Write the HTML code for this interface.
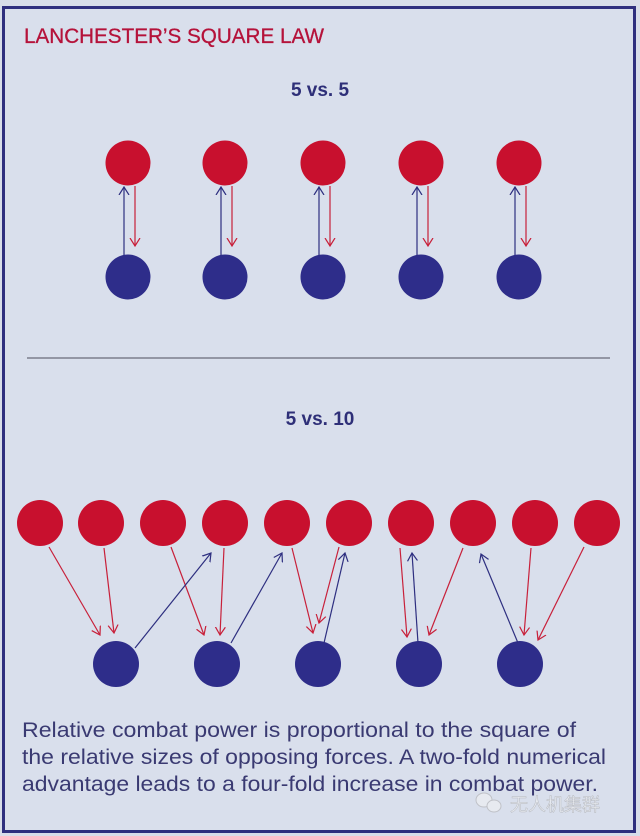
<!DOCTYPE html>
<html><head><meta charset="utf-8"><style>
html,body{margin:0;padding:0;background:#d8dde9;}
svg{display:block}
</style></head><body>
<svg width="640" height="836" viewBox="0 0 640 836" xmlns="http://www.w3.org/2000/svg">
<defs>
<marker id="r" markerWidth="10" markerHeight="12" refX="8" refY="6" orient="auto" markerUnits="userSpaceOnUse"><path d="M0,1 L8,6 L0,11" fill="none" stroke="#c8203a" stroke-width="1.2"/></marker>
<marker id="b" markerWidth="10" markerHeight="12" refX="8" refY="6" orient="auto" markerUnits="userSpaceOnUse"><path d="M0,1 L8,6 L0,11" fill="none" stroke="#2e2f80" stroke-width="1.2"/></marker>
</defs>
<rect x="0" y="0" width="640" height="836" fill="#d8dde9"/>
<rect x="3.5" y="7.5" width="631" height="824" fill="#d9dfec" stroke="#2f2f7e" stroke-width="3"/>
<text x="24" y="43" font-family="Liberation Sans, sans-serif" font-size="21" fill="#b5123a" stroke="#b5123a" stroke-width="0.3" textLength="300" lengthAdjust="spacingAndGlyphs">LANCHESTER’S SQUARE LAW</text>
<text x="320" y="96" text-anchor="middle" font-family="Liberation Sans, sans-serif" font-weight="bold" font-size="19" fill="#2e2f78">5 vs. 5</text>
<text x="320" y="425" text-anchor="middle" font-family="Liberation Sans, sans-serif" font-weight="bold" font-size="19" fill="#2e2f78">5 vs. 10</text>
<line x1="27" y1="358" x2="610" y2="358" stroke="#6a6a78" stroke-width="1.2"/>
<g fill="#c8102e">
<circle cx="128" cy="163" r="22.5"/><circle cx="225" cy="163" r="22.5"/><circle cx="323" cy="163" r="22.5"/><circle cx="421" cy="163" r="22.5"/><circle cx="519" cy="163" r="22.5"/>
</g>
<g fill="#2e2d8a">
<circle cx="128" cy="277" r="22.5"/><circle cx="225" cy="277" r="22.5"/><circle cx="323" cy="277" r="22.5"/><circle cx="421" cy="277" r="22.5"/><circle cx="519" cy="277" r="22.5"/>
</g>
<g stroke-width="1.2" fill="none">
<g stroke="#2e2f80" marker-end="url(#b)">
<line x1="124" y1="255" x2="124" y2="187"/><line x1="221" y1="255" x2="221" y2="187"/><line x1="319" y1="255" x2="319" y2="187"/><line x1="417" y1="255" x2="417" y2="187"/><line x1="515" y1="255" x2="515" y2="187"/>
</g>
<g stroke="#c8203a" marker-end="url(#r)">
<line x1="135" y1="186" x2="135" y2="246"/><line x1="232" y1="186" x2="232" y2="246"/><line x1="330" y1="186" x2="330" y2="246"/><line x1="428" y1="186" x2="428" y2="246"/><line x1="526" y1="186" x2="526" y2="246"/>
</g>
</g>
<g fill="#c8102e">
<circle cx="40" cy="523" r="23"/><circle cx="101" cy="523" r="23"/><circle cx="163" cy="523" r="23"/><circle cx="225" cy="523" r="23"/><circle cx="287" cy="523" r="23"/><circle cx="349" cy="523" r="23"/><circle cx="411" cy="523" r="23"/><circle cx="473" cy="523" r="23"/><circle cx="535" cy="523" r="23"/><circle cx="597" cy="523" r="23"/>
</g>
<g fill="#2e2d8a">
<circle cx="116" cy="664" r="23"/><circle cx="217" cy="664" r="23"/><circle cx="318" cy="664" r="23"/><circle cx="419" cy="664" r="23"/><circle cx="520" cy="664" r="23"/>
</g>
<g stroke-width="1.2" fill="none">
<g stroke="#c8203a" marker-end="url(#r)">
<line x1="49" y1="547" x2="100" y2="635"/>
<line x1="104" y1="548" x2="114" y2="633"/>
<line x1="171" y1="547" x2="204" y2="635"/>
<line x1="224" y1="548" x2="220" y2="635"/>
<line x1="292" y1="548" x2="313" y2="633"/>
<line x1="339" y1="547" x2="319" y2="623"/>
<line x1="400" y1="548" x2="407" y2="637"/>
<line x1="463" y1="548" x2="429" y2="635"/>
<line x1="531" y1="548" x2="524" y2="635"/>
<line x1="584" y1="547" x2="538" y2="640"/>
</g>
<g stroke="#2e2f80" marker-end="url(#b)">
<line x1="135" y1="648" x2="211" y2="553"/>
<line x1="231" y1="643" x2="282" y2="553"/>
<line x1="324" y1="643" x2="345" y2="553"/>
<line x1="418" y1="643" x2="412" y2="553"/>
<line x1="518" y1="643" x2="481" y2="554"/>
</g>
</g>
<g font-family="Liberation Sans, sans-serif" font-size="21.5" fill="#3a3a72">
<text x="22" y="737" textLength="554" lengthAdjust="spacingAndGlyphs">Relative combat power is proportional to the square of</text>
<text x="22" y="764" textLength="584" lengthAdjust="spacingAndGlyphs">the relative sizes of opposing forces. A two-fold numerical</text>
<text x="22" y="791" textLength="576" lengthAdjust="spacingAndGlyphs">advantage leads to a four-fold increase in combat power.</text>
</g>
<g opacity="0.55">
<ellipse cx="484" cy="800" rx="8" ry="7" fill="#f4f4f4" stroke="#aaa"/>
<ellipse cx="494" cy="806" rx="7" ry="6" fill="#f4f4f4" stroke="#aaa"/>
<text x="510" y="811" font-family="Liberation Sans, 'Noto Sans CJK SC', sans-serif" font-size="18" fill="#f4f4f4" stroke="#999" stroke-width="0.5">无人机集群</text>
</g>
</svg>
</body></html>
